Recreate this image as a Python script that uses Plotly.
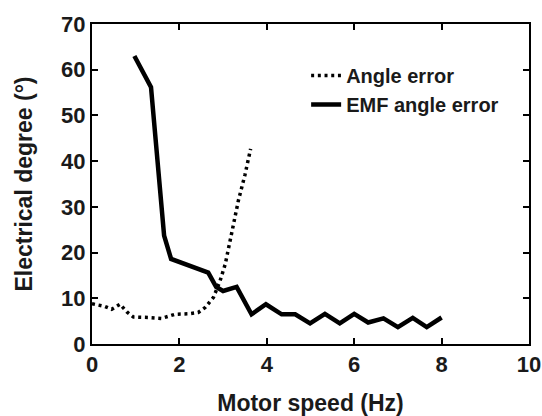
import plotly.graph_objects as go

# Data
angle_x = [0.0, 0.3, 0.45, 0.64, 0.8, 0.95, 1.3, 1.59, 1.9, 2.2, 2.43, 2.59, 2.78, 2.93, 3.05, 3.16, 3.35, 3.5, 3.63]
angle_y = [8.8, 8.2, 7.6, 8.7, 7.0, 5.9, 5.8, 5.6, 6.5, 6.6, 6.9, 8.0, 10.2, 13.8, 17.5, 22.6, 31.4, 37.0, 42.7]

emf_x = [0.97, 1.35, 1.65, 1.81, 2.66, 2.84, 3.0, 3.31, 3.65, 3.98, 4.34, 4.65, 4.99, 5.33,
         5.67, 6.0, 6.32, 6.67, 7.0, 7.34, 7.66, 8.0]
emf_y = [63.0, 56.2, 23.7, 18.6, 15.6, 12.5, 11.6, 12.5, 6.5, 8.7, 6.5, 6.5, 4.5, 6.6,
         4.5, 6.6, 4.7, 5.6, 3.7, 5.7, 3.7, 5.8]

x_ticks = [0, 2, 4, 6, 8, 10]
y_ticks = [0, 10, 20, 30, 40, 50, 60, 70]

FONT = "Liberation Sans, Arial, sans-serif"
TXT = "#1a1a1a"

fig = go.Figure()
fig.add_trace(go.Scatter(x=angle_x, y=angle_y, mode="lines", name="Angle error",
                         line=dict(color="black", width=3.5, dash="3px,3.7px")))
fig.add_trace(go.Scatter(x=emf_x, y=emf_y, mode="lines", name="EMF angle error",
                         line=dict(color="black", width=4.5)))

axis_common = dict(showgrid=False, zeroline=False, showline=True, linecolor="black",
                   linewidth=2, mirror="ticks", ticks="inside", ticklen=6, tickwidth=2,
                   tickcolor="black", automargin=False,
                   tickfont=dict(family=FONT, size=22, color=TXT, weight="bold"))

fig.update_xaxes(range=[0, 10], tickvals=x_ticks, **axis_common,
                 title=dict(text="Motor speed (Hz)", standoff=26,
                            font=dict(family=FONT, size=23, color=TXT, weight="bold")))
fig.update_yaxes(range=[0, 70], tickvals=y_ticks, **axis_common,
                 title=dict(text="Electrical degree (°)", standoff=22,
                            font=dict(family=FONT, size=23, color=TXT, weight="bold")))

fig.update_layout(
    width=542, height=416,
    margin=dict(l=92, r=13, t=24, b=72),
    paper_bgcolor="white", plot_bgcolor="white",
    font=dict(family=FONT, size=20, color=TXT),
    legend=dict(x=0.49, y=0.9, xanchor="left", yanchor="top",
                bgcolor="rgba(0,0,0,0)",
                font=dict(family=FONT, size=20, color=TXT, weight="bold"),
                tracegroupgap=0, itemwidth=30),
)

fig.write_html("out.html")
